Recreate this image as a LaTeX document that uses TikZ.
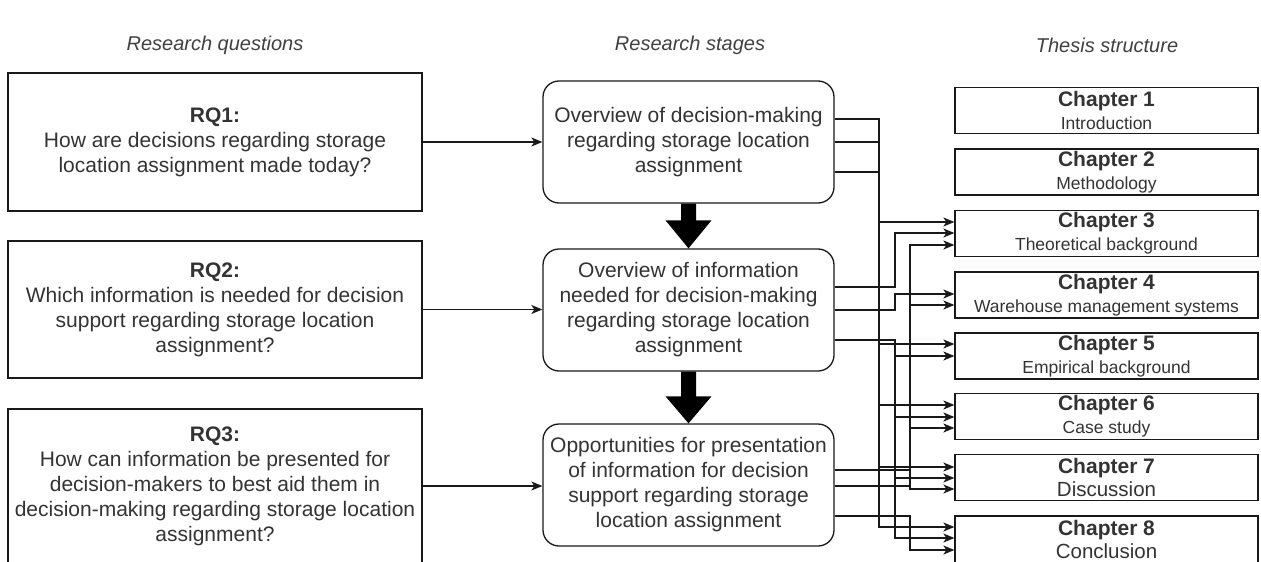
\documentclass[tikz,border=0pt]{standalone}
\usepackage{fontspec}
\setmainfont{Liberation Sans}
\usetikzlibrary{arrows.meta,calc}
\tikzset{
  box/.style={draw=black!90, line width=1.3pt, align=center, inner sep=0pt, text=black!80, font=\fontsize{21}{25}\selectfont},
  rqbox/.style={box, minimum width=414pt},
  stagebox/.style={box, rounded corners=16pt, minimum width=291pt, minimum height=122pt},
  chbox/.style={box, minimum width=303pt, minimum height=46pt, font=\fontsize{21}{23}\selectfont},
  conn/.style={draw=black!90, line width=1.2pt, -{Stealth[length=11pt,width=9pt,inset=3pt]}},
  coltitle/.style={font=\itshape\fontsize{20}{22}\selectfont, text=black!75},
  bigarrow/.style={fill=black},
}
\newcommand\chsub[1]{{\fontsize{17.5}{21}\selectfont #1}}
\newcommand\chbig[1]{{\fontsize{20.5}{23}\selectfont #1}}
\newcommand\chlink[5]{\draw[conn] (#1.east |- 0,#2) -| (#3,#4) -- (#5.west |- 0,#4);}
\begin{document}
\begin{tikzpicture}[x=1pt,y=-1pt]
\useasboundingbox (0,0) rectangle (1261,562);
% column titles
\node[coltitle] (t1) at (215,45) {Research questions};
\node[coltitle] (t2) at (690,45) {Research stages};
\node[coltitle] (t3) at (1107,45) {Thesis structure};
% research questions
\node[rqbox, minimum height=138pt] (rq1) at (215,142) {\textbf{RQ1:}\\How are decisions regarding storage\\location assignment made today?};
\node[rqbox, minimum height=137pt] (rq2) at (215,309.5) {\textbf{RQ2:}\\Which information is needed for decision\\support regarding storage location\\assignment?};
\node[rqbox, minimum height=154pt] (rq3) at (215,486) {\textbf{RQ3:}\\How can information be presented for\\decision-makers to best aid them in\\decision-making regarding storage location\\assignment?};
% research stages
\node[stagebox] (s1) at (688.5,142) {Overview of decision-making\\regarding storage location\\assignment};
\node[stagebox] (s2) at (688.5,310) {Overview of information\\needed for decision-making\\regarding storage location\\assignment};
\node[stagebox] (s3) at (688.5,485) {Opportunities for presentation\\of information for decision\\support regarding storage\\location assignment};
% chapters
\node[chbox] (ch1) at (1106.5,110.5) {\textbf{Chapter 1}\\\chsub{Introduction}};
\node[chbox] (ch2) at (1106.5,172) {\textbf{Chapter 2}\\\chsub{Methodology}};
\node[chbox] (ch3) at (1106.5,233.5) {\textbf{Chapter 3}\\\chsub{Theoretical background}};
\node[chbox] (ch4) at (1106.5,295) {\textbf{Chapter 4}\\\chsub{Warehouse management systems}};
\node[chbox] (ch5) at (1106.5,356) {\textbf{Chapter 5}\\\chsub{Empirical background}};
\node[chbox] (ch6) at (1106.5,416.5) {\textbf{Chapter 6}\\\chsub{Case study}};
\node[chbox] (ch7) at (1106.5,477.5) {\textbf{Chapter 7}\\\chbig{Discussion}};
\node[chbox, minimum height=47pt] (ch8) at (1106.5,539.5) {\textbf{Chapter 8}\\\chbig{Conclusion}};
% RQ -> stage
\draw[conn] (rq1.east) -- (rq1.east -| s1.west);
\draw[conn] (rq2.east) -- (rq2.east -| s2.west);
\draw[conn] (rq3.east) -- (rq3.east -| s3.west);
% big arrows between stages
\fill[bigarrow] ($(s1.south)+(-7.5,0)$) -- ($(s1.south)+(7.5,0)$) -- ($(s2.north)+(7.5,-28)$) -- ($(s2.north)+(23,-28)$) -- (s2.north) -- ($(s2.north)+(-23,-28)$) -- ($(s2.north)+(-7.5,-28)$) -- cycle;
\fill[bigarrow] ($(s2.south)+(-7.5,0)$) -- ($(s2.south)+(7.5,0)$) -- ($(s3.north)+(7.5,-27)$) -- ($(s3.north)+(23,-27)$) -- (s3.north) -- ($(s3.north)+(-23,-27)$) -- ($(s3.north)+(-7.5,-27)$) -- cycle;
% stage -> chapters
\chlink{s1}{119}{879}{222}{ch3}
\chlink{s1}{142}{879}{344}{ch5}
\chlink{s1}{172}{879}{405}{ch6}
\chlink{s1}{172}{879}{467}{ch7}
\chlink{s1}{172}{879}{527}{ch8}
\chlink{s2}{287}{895}{233}{ch3}
\chlink{s2}{310}{895}{294}{ch4}
\chlink{s2}{340}{895}{356}{ch5}
\chlink{s2}{340}{895}{417}{ch6}
\chlink{s2}{340}{895}{478}{ch7}
\chlink{s2}{340}{895}{538}{ch8}
\chlink{s3}{470}{910}{245}{ch3}
\chlink{s3}{470}{910}{305}{ch4}
\chlink{s3}{486}{910}{428}{ch6}
\chlink{s3}{486}{910}{489}{ch7}
\chlink{s3}{516}{910}{550}{ch8}
\end{tikzpicture}
\end{document}
